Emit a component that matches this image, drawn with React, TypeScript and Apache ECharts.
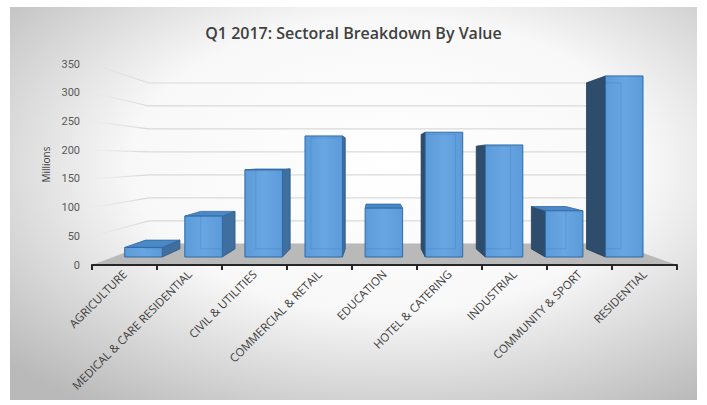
import React, { useEffect, useRef } from "react";
import * as echarts from "echarts";

const chartTitle = "Q1 2017: Sectoral Breakdown By Value";
const categories = [
  "AGRICULTURE",
  "MEDICAL & CARE RESIDENTIAL",
  "CIVIL & UTILITIES",
  "COMMERCIAL & RETAIL",
  "EDUCATION",
  "HOTEL & CATERING",
  "INDUSTRIAL",
  "COMMUNITY & SPORT",
  "RESIDENTIAL",
];
const values = [18, 77, 164, 228, 92, 235, 211, 87, 341];
const gridValues = [0, 50, 100, 150, 200, 250, 300, 350];
const yAxisName = "Millions";

export default function App() {
  const ref = useRef<HTMLDivElement>(null);
  useEffect(() => {
    const chart = echarts.init(ref.current!, null, { renderer: "svg" });
    // simple one-point perspective camera
    const VX = 376, VY = 159;
    const KF = 0.9246; // bar front depth
    const KB = 0.848; // bar back depth
    const KW = 0.8; // back wall depth
    const proj = (x: number, y: number, k: number) => [VX + (x - VX) * k, VY + (y - VY) * k];

    const wallSeries = {
      type: "custom",
      z: 1,
      silent: true,
      data: gridValues.map((v) => [0, v]),
      encode: { x: 0, y: 1 },
      renderItem: (params: any, api: any) => {
        const cs = params.coordSys;
        const y = api.coord([0, api.value(1)])[1];
        const left = cs.x, right = cs.x + cs.width;
        const bl = proj(left, y, KW);
        const br = proj(right, y, KW);
        return {
          type: "group",
          children: [
            {
              type: "line",
              shape: { x1: left, y1: y, x2: bl[0], y2: bl[1] },
              style: {
                stroke: new echarts.graphic.LinearGradient(0, 0, 1, 0, [
                  { offset: 0, color: "rgba(215,215,215,0)" },
                  { offset: 1, color: "rgba(215,215,215,1)" },
                ]),
                lineWidth: 1.2,
              },
            },
            {
              type: "line",
              shape: { x1: bl[0], y1: bl[1], x2: br[0], y2: br[1] },
              style: { stroke: "#dadada", lineWidth: 1.2 },
            },
          ],
        };
      },
    };

    const floorSeries = {
      type: "custom",
      z: 2,
      silent: true,
      data: [[0, 0]],
      encode: { x: 0, y: 1 },
      renderItem: (params: any, api: any) => {
        const cs = params.coordSys;
        const y = api.coord([0, 0])[1];
        const left = cs.x, right = cs.x + cs.width;
        const bl = proj(left, y, KW);
        const br = proj(right, y, KW);
        return {
          type: "polygon",
          shape: { points: [[left, y], [right, y], br, bl] },
          style: { fill: "#b9b9b9" },
        };
      },
    };

    const barSeries = {
      type: "custom",
      z: 3,
      data: values.map((v, i) => [i, v]),
      encode: { x: 0, y: 1 },
      renderItem: (params: any, api: any) => {
        const idx = api.value(0);
        const val = api.value(1);
        const b = api.coord([idx, 0]);
        const t = api.coord([idx, val]);
        const hw = api.size([1, 0])[0] * 0.312;
        const xl = b[0] - hw, xr = b[0] + hw;
        const yb = b[1], yt = t[1];
        const fBL = proj(xl, yb, KF), fBR = proj(xr, yb, KF), fTL = proj(xl, yt, KF), fTR = proj(xr, yt, KF);
        const bBL = proj(xl, yb, KB), bBR = proj(xr, yb, KB), bTL = proj(xl, yt, KB), bTR = proj(xr, yt, KB);
        const children: any[] = [];
        const edge = "#2f6aa6";
        const hidden = "rgba(35,85,140,0.16)";
        if (xr < VX) {
          children.push({
            type: "polygon",
            shape: { points: [fBR, bBR, bTR, fTR] },
            style: { fill: "#3f6f9f", stroke: "#2d5a88", lineWidth: 0.8 },
          });
        } else if (xl > VX) {
          children.push({
            type: "polygon",
            shape: { points: [fBL, bBL, bTL, fTL] },
            style: { fill: "#2e4c6c", stroke: "#263f5a", lineWidth: 0.8 },
          });
        }
        if (yt > VY) {
          children.push({
            type: "polygon",
            shape: { points: [fTL, fTR, bTR, bTL] },
            style: { fill: "#4a88c8", stroke: "#33679f", lineWidth: 0.8 },
          });
        }
        children.push({
          type: "polygon",
          shape: { points: [fTL, fTR, fBR, fBL] },
          style: {
            fill: new echarts.graphic.LinearGradient(0, 0, 1, 0, [
              { offset: 0, color: "#5c9bd9" },
              { offset: 0.5, color: "#67a6e2" },
              { offset: 1, color: "#5c9bd9" },
            ]),
            stroke: edge,
            lineWidth: 1,
          },
        });
        // hidden back edges seen through the translucent front face
        const topY = Math.max(bTL[1], fTL[1]);
        if (xr < VX) {
          children.push({ type: "line", shape: { x1: bBL[0], y1: bBL[1], x2: bBL[0], y2: topY }, style: { stroke: hidden, lineWidth: 1 } });
        } else if (xl > VX) {
          children.push({ type: "line", shape: { x1: bBR[0], y1: bBR[1], x2: bBR[0], y2: topY }, style: { stroke: hidden, lineWidth: 1 } });
        }
        const hx1 = Math.max(bBL[0], fBL[0]);
        const hx2 = Math.min(bBR[0], fBR[0]);
        children.push({ type: "line", shape: { x1: hx1, y1: bBL[1], x2: hx2, y2: bBL[1] }, style: { stroke: hidden, lineWidth: 1 } });
        if (yt < VY) {
          children.push({ type: "line", shape: { x1: hx1, y1: bTL[1], x2: hx2, y2: bTL[1] }, style: { stroke: hidden, lineWidth: 1 } });
        }
        return { type: "group", children };
      },
    };

    const option: any = {
      animation: false,
      backgroundColor: "#ffffff",
      title: {
        text: chartTitle,
        left: "center",
        top: 20,
        textStyle: { fontFamily: "Open Sans", fontSize: 16, fontWeight: 600, color: "#404040" },
      },
      graphic: [
        {
          type: "rect",
          z: -100,
          silent: true,
          shape: { x: 10, y: 7, width: 687, height: 393 },
          style: {
            fill: new echarts.graphic.RadialGradient(0.55, 0.4, 0.75, [
              { offset: 0, color: "#ffffff" },
              { offset: 0.5, color: "#f8f8f8" },
              { offset: 1, color: "#b9b9b9" },
            ]),
          },
        },
      ],
      grid: { left: 92, right: 30, top: 64, bottom: 140 },
      xAxis: {
        type: "category",
        data: categories,
        boundaryGap: true,
        z: 10,
        axisLine: { show: true, lineStyle: { color: "#262626", width: 2 } },
        axisTick: { show: true, length: 5, lineStyle: { color: "#262626", width: 2 } },
        axisLabel: {
          rotate: 45,
          interval: 0,
          margin: 7,
          fontFamily: "Open Sans",
          fontSize: 11.5,
          color: "#404040",
        },
        splitLine: { show: false },
      },
      yAxis: {
        type: "value",
        min: 0,
        max: 350,
        interval: 50,
        name: yAxisName,
        nameLocation: "middle",
        nameGap: 38,
        nameTextStyle: { fontFamily: "Open Sans", fontSize: 10, color: "#404040" },
        axisLine: { show: false },
        axisTick: { show: false },
        splitLine: { show: false },
        axisLabel: { margin: 12, fontFamily: "Roboto", fontSize: 11, color: "#595959" },
      },
      series: [wallSeries, floorSeries, barSeries],
    };
    chart.setOption(option);
    return () => chart.dispose();
  }, []);
  return <div ref={ref} style={{ position: "fixed", left: 0, top: 0, width: 707, height: 405 }} />;
}
